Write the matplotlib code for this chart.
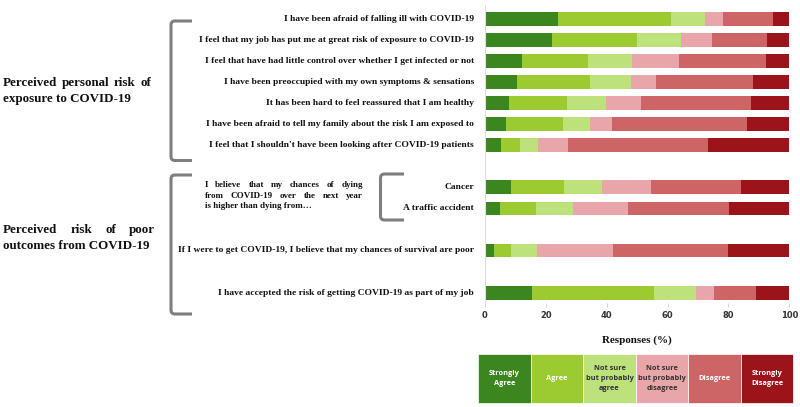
import matplotlib
matplotlib.use("Agg")
import matplotlib.pyplot as plt
from matplotlib.path import Path
from matplotlib.patches import PathPatch, Rectangle

W, H = 800, 407

# ---------------- data ----------------
items = [
    "I have been afraid of falling ill with COVID-19",
    "I feel that my job has put me at great risk of exposure to COVID-19",
    "I feel that have had little control over whether I get infected or not",
    "I have been preoccupied with my own symptoms & sensations",
    "It has been hard to feel reassured that I am healthy",
    "I have been afraid to tell my family about the risk I am exposed to",
    "I feel that I shouldn't have been looking after COVID-19 patients",
    "Cancer",
    "A traffic accident",
    "If I were to get COVID-19, I believe that my chances of survival are poor",
    "I have accepted the risk of getting COVID-19 as part of my job",
]
row_pos = [0, 1, 2, 3, 4, 5, 6, 8, 9, 11, 13]

strongly_agree = [24.1, 21.9, 12.1, 10.6, 8.0, 7.0, 5.3, 8.4, 4.9, 2.8, 15.4]
agree          = [36.9, 27.9, 21.8, 23.9, 19.1, 18.6, 6.1, 17.4, 11.8, 5.8, 40.1]
ns_agree       = [11.4, 14.5, 14.5, 13.4, 12.6, 9.0, 6.1, 12.7, 12.1, 8.6, 13.9]
ns_disagree    = [5.8, 10.2, 15.4, 8.4, 11.7, 7.0, 9.9, 16.1, 18.2, 24.8, 5.8]
disagree       = [16.4, 18.1, 28.4, 31.7, 36.1, 44.5, 45.9, 29.6, 33.3, 38.0, 14.0]
strongly_dis   = [5.4, 7.4, 7.8, 12.0, 12.5, 13.9, 26.7, 15.8, 19.7, 20.0, 10.8]

categories = ["Strongly\nAgree", "Agree", "Not sure\nbut probably\nagree",
              "Not sure\nbut probably\ndisagree", "Disagree", "Strongly\nDisagree"]
colors = ["#3b861f", "#9bca31", "#bee27b", "#e8a6aa", "#cd6465", "#9b141a"]
text_colors = ["white", "white", "#333333", "#333333", "white", "white"]
xticks = [0, 20, 40, 60, 80, 100]

series = [strongly_agree, agree, ns_agree, ns_disagree, disagree, strongly_dis]

# ---------------- figure ----------------
fig = plt.figure(figsize=(W / 100, H / 100), dpi=100)

def fx(px):
    return px / W

def fy(py):
    return 1 - py / H

ax_left, ax_right, ax_top, ax_bot = 485, 789.3, 5, 303
ax = fig.add_axes([fx(ax_left), fy(ax_bot), (ax_right - ax_left) / W, (ax_bot - ax_top) / H])

left = [0.0] * len(items)
for vals, col in zip(series, colors):
    ax.barh(row_pos, vals, left=left, height=0.65, color=col, edgecolor="none")
    left = [l + v for l, v in zip(left, vals)]

ax.set_xlim(0, 100)
ax.set_ylim(13.49, -0.65)
ax.set_yticks([])
ax.set_xticks(xticks)
ax.set_xticklabels([str(t) for t in xticks], fontsize=6, color="#333333", fontweight="bold")
ax.tick_params(axis="x", length=3, width=0.6, color="#cccccc", pad=3)
for s in ["top", "right", "bottom"]:
    ax.spines[s].set_visible(False)
ax.spines["left"].set_color("#dddddd")
ax.spines["left"].set_linewidth(0.8)

serif = ["Liberation Serif", "DejaVu Serif"]

# item labels
item_px = [18.7 + 21.07 * r for r in row_pos]
for lab, py in zip(items, item_px):
    fig.text(fx(474), fy(py), lab, ha="right", va="center", fontsize=6.8,
             fontweight="bold", family=serif, color="#111111")

# x-axis label
fig.text(fx(637), fy(340), "Responses (%)", ha="center", va="center", fontsize=7.9,
         fontweight="bold", family=serif, color="#111111")

# legend boxes
lx0, lx1, ly0, ly1 = 478.3, 793.3, 354, 403
bw = (lx1 - lx0) / len(categories)
for i, (cat, col, tc) in enumerate(zip(categories, colors, text_colors)):
    x0 = lx0 + i * bw
    fig.patches.append(Rectangle((fx(x0), fy(ly1)), bw / W, (ly1 - ly0) / H,
                                 transform=fig.transFigure, facecolor=col,
                                 edgecolor="white", linewidth=0.5))
    fig.text(fx(x0 + bw / 2), fy((ly0 + ly1) / 2), cat, ha="center", va="center",
             fontsize=5.3, fontweight="bold", color=tc, linespacing=1.5,
             family=["Open Sans", "DejaVu Sans"])

# brackets
def bracket(xv, y_top, y_bot, x_end, lw=2.2):
    r = 4
    verts = [(x_end, y_top), (xv + r, y_top), (xv, y_top), (xv, y_top + r),
             (xv, y_bot - r), (xv, y_bot), (xv + r, y_bot), (x_end, y_bot)]
    codes = [Path.MOVETO, Path.LINETO, Path.CURVE3, Path.CURVE3,
             Path.LINETO, Path.CURVE3, Path.CURVE3, Path.LINETO]
    verts = [(fx(a), fy(b)) for a, b in verts]
    fig.patches.append(PathPatch(Path(verts, codes), transform=fig.transFigure,
                                 facecolor="none", edgecolor="#7f7f7f", linewidth=lw,
                                 capstyle="butt"))

bracket(171, 21, 160.5, 192)
bracket(171, 175, 314, 192)
bracket(380.5, 174, 220, 404)

# justified text helper
fig.canvas.draw()
renderer = fig.canvas.get_renderer()

def justified(lines, x0, x1, ys, fs, last_left=True):
    for k, (line, py) in enumerate(zip(lines, ys)):
        words = line.split()
        if last_left and k == len(lines) - 1:
            fig.text(fx(x0), fy(py), line, ha="left", va="center", fontsize=fs,
                     fontweight="bold", family=serif, color="#111111")
            continue
        ts = [fig.text(0, fy(py), w, ha="left", va="center", fontsize=fs,
                       fontweight="bold", family=serif, color="#111111") for w in words]
        widths = [t.get_window_extent(renderer).width for t in ts]
        gap = (x1 - x0 - sum(widths)) / max(len(words) - 1, 1)
        x = x0
        for t, wd in zip(ts, widths):
            t.set_x(fx(x))
            x += wd + gap

justified(["Perceived personal risk of", "exposure to COVID-19"], 3, 151, [83.3, 99.3], 9.4)
justified(["Perceived risk of poor", "outcomes from COVID-19"], 3, 155, [229.7, 246], 9.4)
justified(["I believe that my chances of dying", "from COVID-19 over the next year",
           "is higher than dying from…"], 205, 363, [185, 195.8, 206.5], 6.5)

fig.savefig("out.png", dpi=100)
